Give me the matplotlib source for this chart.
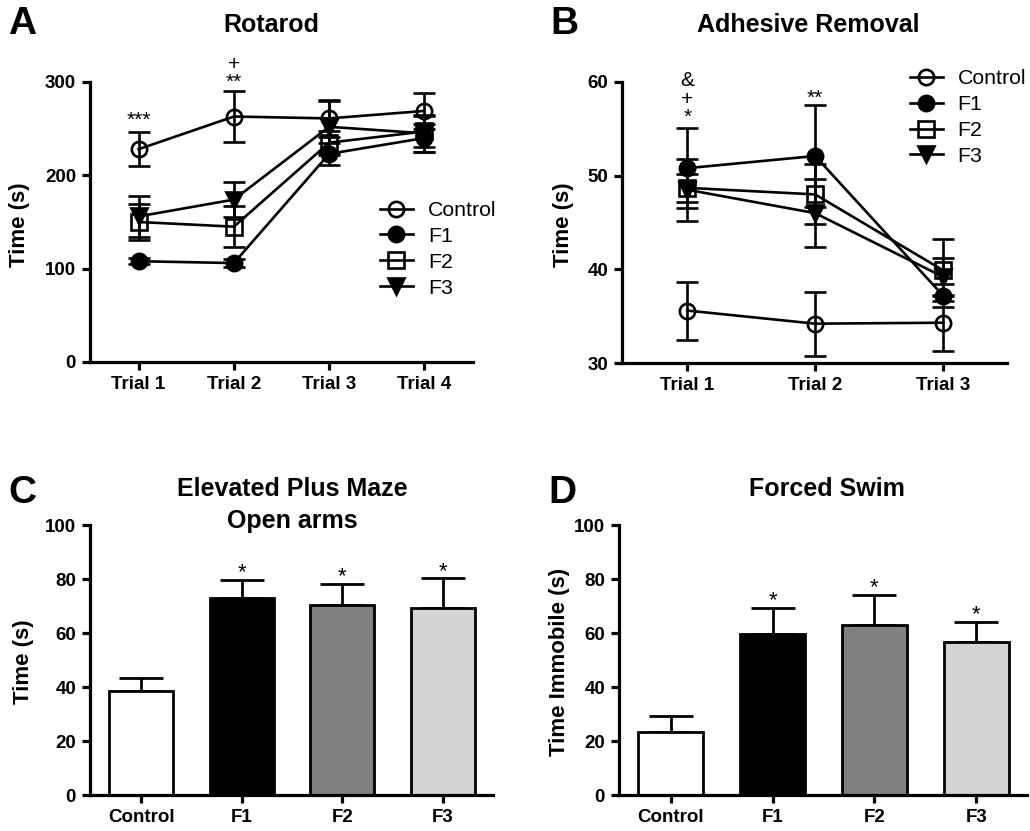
import matplotlib
matplotlib.use('Agg')
import matplotlib.pyplot as plt
import numpy as np

plt.rcParams['font.family'] = ['Liberation Sans', 'DejaVu Sans']
plt.rcParams['font.weight'] = 'bold'

W, H = 1030, 831

# ---- data ----
groups = ['Control', 'F1', 'F2', 'F3']

rota_trials = ['Trial 1', 'Trial 2', 'Trial 3', 'Trial 4']
rota_mean = {'Control': [228, 263, 261, 269],
             'F1': [108, 106, 223, 240],
             'F2': [150, 145, 235, 247],
             'F3': [156, 174, 252, 245]}
rota_sem = {'Control': [18, 27, 20, 19],
            'F1': [3, 4, 12, 15],
            'F2': [19, 22, 13, 17],
            'F3': [22, 19, 28, 20]}

adh_trials = ['Trial 1', 'Trial 2', 'Trial 3']
adh_mean = {'Control': [35.6, 34.2, 34.3],
            'F1': [50.8, 52.1, 37.2],
            'F2': [48.7, 48.0, 39.9],
            'F3': [48.5, 46.0, 39.2]}
adh_sem = {'Control': [3.1, 3.4, 3.0],
           'F1': [4.3, 5.4, 1.2],
           'F2': [1.5, 3.2, 3.3],
           'F3': [3.3, 3.6, 2.0]}

epm_mean = [38.6, 72.9, 70.2, 69.3]
epm_sem = [4.9, 6.7, 8.0, 10.9]

swim_mean = [23.2, 59.6, 62.9, 56.5]
swim_sem = [6.1, 9.6, 11.3, 7.6]

bar_colors = ['white', 'black', '#808080', '#d3d3d3']
markers = {'Control': ('o', 'none'), 'F1': ('o', 'black'),
           'F2': ('s', 'none'), 'F3': ('v', 'black')}


def axrect(l, t, r, b):
    return [l / W, 1 - b / H, (r - l) / W, (b - t) / H]


def style(ax):
    for s in ['top', 'right']:
        ax.spines[s].set_visible(False)
    for s in ['left', 'bottom']:
        ax.spines[s].set_linewidth(2.3)
    ax.tick_params(width=2.3, length=6, labelsize=13.5, pad=4)
    for lab in ax.get_xticklabels() + ax.get_yticklabels():
        lab.set_fontweight('bold')


def ftext(x, y, s, **kw):
    fig.text(x / W, 1 - y / H, s, **kw)


def legend(ax, anchor):
    h, l = ax.get_legend_handles_labels()
    h = [x[0] for x in h]
    ax.legend(h, l, loc='upper left', bbox_to_anchor=anchor, frameon=False,
              prop={'size': 15.3, 'weight': 'normal'}, handlelength=1.55,
              handletextpad=0.7, labelspacing=0.32, borderaxespad=0)


fig = plt.figure(figsize=(10.3, 8.31), dpi=100)

# ---- A: Rotarod ----
axA = fig.add_axes(axrect(90, 82, 473, 362))
xa = np.arange(1, len(rota_trials) + 1)
for g in groups:
    m, fc = markers[g]
    axA.errorbar(xa, rota_mean[g], yerr=rota_sem[g], color='black', lw=1.9,
                 marker=m, ms=11, mfc=fc, mec='black', mew=1.9,
                 capsize=8, capthick=1.9, elinewidth=1.9, label=g, clip_on=False)
axA.set_xlim(0.49, 4.51)
axA.set_ylim(0, 300)
axA.set_yticks([0, 100, 200, 300])
axA.set_xticks(xa)
axA.set_xticklabels(rota_trials)
style(axA)
legend(axA, (0.735, 0.605))
axA.text(1, 259, '***', ha='center', va='center', fontsize=15, fontweight='normal')
axA.text(2, 300, '**', ha='center', va='center', fontsize=15, fontweight='normal')
axA.text(2, 319, '+', ha='center', va='center', fontsize=15, fontweight='normal')

# ---- B: Adhesive Removal ----
axB = fig.add_axes(axrect(622, 82, 1007, 363))
xb = np.arange(1, len(adh_trials) + 1)
for g in groups:
    m, fc = markers[g]
    axB.errorbar(xb, adh_mean[g], yerr=adh_sem[g], color='black', lw=1.9,
                 marker=m, ms=11, mfc=fc, mec='black', mew=1.9,
                 capsize=8, capthick=1.9, elinewidth=1.9, label=g, clip_on=False)
axB.set_xlim(0.49, 3.5)
axB.set_ylim(30, 60)
axB.set_yticks([30, 40, 50, 60])
axB.set_xticks(xb)
axB.set_xticklabels(adh_trials)
style(axB)
legend(axB, (0.725, 1.075))
axB.text(1, 56.2, '*', ha='center', va='center', fontsize=15, fontweight='normal')
axB.text(1, 58.1, '+', ha='center', va='center', fontsize=15, fontweight='normal')
axB.text(1, 60.2, '&', ha='center', va='center', fontsize=15, fontweight='normal')
axB.text(2, 58.3, '**', ha='center', va='center', fontsize=15, fontweight='normal')

# ---- C / D: bar charts ----
def bars(ax, mean, sem):
    xs = np.arange(len(groups))
    ax.bar(xs, mean, width=0.64, color=bar_colors, edgecolor='black', linewidth=2, zorder=2)
    ax.errorbar(xs, mean, yerr=[np.zeros(len(mean)), sem], fmt='none', ecolor='black',
                elinewidth=2, capsize=16, capthick=2, zorder=1)
    for i in range(1, len(groups)):
        ax.text(xs[i], mean[i] + sem[i] - 1.2, '*', ha='center', va='bottom',
                fontsize=16, fontweight='normal')
    ax.set_xlim(-0.51, 3.5)
    ax.set_ylim(0, 100)
    ax.set_yticks(range(0, 101, 20))
    ax.set_xticks(xs)
    ax.set_xticklabels(groups)
    style(ax)


axC = fig.add_axes(axrect(90, 525, 493, 795))
bars(axC, epm_mean, epm_sem)
axD = fig.add_axes(axrect(619, 525, 1027, 795))
bars(axD, swim_mean, swim_sem)

# ---- titles, labels, panel letters ----
ftext(271, 25, 'Rotarod', ha='center', va='center', fontsize=18, fontweight='bold')
ftext(808, 25, 'Adhesive Removal', ha='center', va='center', fontsize=18, fontweight='bold')
ftext(292, 489, 'Elevated Plus Maze', ha='center', va='center', fontsize=18, fontweight='bold')
ftext(292, 521, 'Open arms', ha='center', va='center', fontsize=18, fontweight='bold')
ftext(827, 489, 'Forced Swim', ha='center', va='center', fontsize=18, fontweight='bold')

ftext(20, 225, 'Time (s)', ha='center', va='center', rotation=90, fontsize=16, fontweight='bold')
ftext(564, 225, 'Time (s)', ha='center', va='center', rotation=90, fontsize=16, fontweight='bold')
ftext(24, 662, 'Time (s)', ha='center', va='center', rotation=90, fontsize=16, fontweight='bold')
ftext(560, 662, 'Time Immobile (s)', ha='center', va='center', rotation=90, fontsize=16, fontweight='bold')

ftext(8, 24, 'A', ha='left', va='center', fontsize=28, fontweight='bold')
ftext(550, 24, 'B', ha='left', va='center', fontsize=28, fontweight='bold')
ftext(8, 493, 'C', ha='left', va='center', fontsize=28, fontweight='bold')
ftext(548, 493, 'D', ha='left', va='center', fontsize=28, fontweight='bold')

fig.savefig('out.png', dpi=100)
